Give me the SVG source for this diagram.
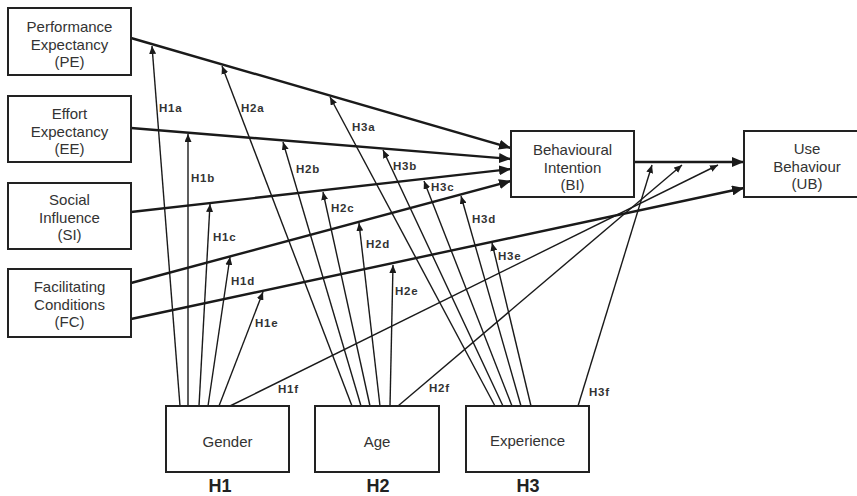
<svg xmlns="http://www.w3.org/2000/svg" width="857" height="496" viewBox="0 0 857 496">
<style>
.box{fill:#fff;stroke:#222;stroke-width:2}
.nt{font-family:"Liberation Sans",Arial,sans-serif;font-size:15px;fill:#333;text-anchor:middle}
.main{stroke:#1a1a1a;stroke-width:2.4;fill:none;marker-end:url(#big)}
.mod{stroke:#1a1a1a;stroke-width:1.4;fill:none;marker-end:url(#small)}
.lbl{font-family:"Liberation Sans",Arial,sans-serif;font-size:11.5px;font-weight:bold;letter-spacing:0.8px;fill:#333}
.hl{font-family:"Liberation Sans",Arial,sans-serif;font-size:18px;font-weight:bold;fill:#222;text-anchor:middle}
</style>
<defs>
<marker id="big" viewBox="0 0 12 10" refX="12" refY="5" markerWidth="12" markerHeight="10" orient="auto" markerUnits="userSpaceOnUse"><path d="M0,0 L12,5 L0,10 z" fill="#1a1a1a"/></marker>
<marker id="small" viewBox="0 0 8 7" refX="8" refY="3.5" markerWidth="8" markerHeight="7" orient="auto" markerUnits="userSpaceOnUse"><path d="M0,0 L8,3.5 L0,7 z" fill="#1a1a1a"/></marker>
</defs>
<rect width="857" height="496" fill="#fff"/>
<g id="connectors">
<line class="main" x1="131" y1="38" x2="511" y2="148"/>
<line class="main" x1="131" y1="128" x2="511" y2="159"/>
<line class="main" x1="131" y1="212" x2="511" y2="169"/>
<line class="main" x1="131" y1="283" x2="511" y2="181"/>
<line class="main" x1="131" y1="319" x2="744" y2="188"/>
<line class="main" x1="634" y1="162" x2="744" y2="162"/>
<line class="mod" x1="180" y1="406" x2="152" y2="46"/>
<line class="mod" x1="188" y1="406" x2="188" y2="134"/>
<line class="mod" x1="199" y1="406" x2="210" y2="204"/>
<line class="mod" x1="208" y1="406" x2="230" y2="257"/>
<line class="mod" x1="219" y1="406" x2="263" y2="292"/>
<line class="mod" x1="230" y1="406" x2="718" y2="165"/>
<line class="mod" x1="352" y1="406" x2="222" y2="66"/>
<line class="mod" x1="361" y1="406" x2="283" y2="142"/>
<line class="mod" x1="370" y1="406" x2="323" y2="192"/>
<line class="mod" x1="380" y1="406" x2="359" y2="223"/>
<line class="mod" x1="390" y1="406" x2="393" y2="265"/>
<line class="mod" x1="398" y1="406" x2="682" y2="165"/>
<line class="mod" x1="495" y1="406" x2="330" y2="97"/>
<line class="mod" x1="503" y1="406" x2="383" y2="150"/>
<line class="mod" x1="512" y1="406" x2="424" y2="181"/>
<line class="mod" x1="521" y1="406" x2="461" y2="196"/>
<line class="mod" x1="531" y1="406" x2="492" y2="243"/>
<line class="mod" x1="578" y1="406" x2="652" y2="165"/>
</g>
<g id="labels">
<text class="lbl" x="159" y="112">H1a</text>
<text class="lbl" x="241" y="112">H2a</text>
<text class="lbl" x="352" y="131">H3a</text>
<text class="lbl" x="191" y="182">H1b</text>
<text class="lbl" x="296" y="173">H2b</text>
<text class="lbl" x="393" y="170">H3b</text>
<text class="lbl" x="213" y="241">H1c</text>
<text class="lbl" x="331" y="212">H2c</text>
<text class="lbl" x="431" y="191">H3c</text>
<text class="lbl" x="231" y="285">H1d</text>
<text class="lbl" x="366" y="248">H2d</text>
<text class="lbl" x="472" y="223">H3d</text>
<text class="lbl" x="255" y="327">H1e</text>
<text class="lbl" x="395" y="295">H2e</text>
<text class="lbl" x="498" y="260">H3e</text>
<text class="lbl" x="278" y="393">H1f</text>
<text class="lbl" x="429" y="392">H2f</text>
<text class="lbl" x="589" y="396">H3f</text>
</g>
<g id="PE"><rect class="box" x="8" y="8" width="123" height="67"/>
<text class="nt" x="69.5" y="32">Performance</text><text class="nt" x="69.5" y="49.5">Expectancy</text><text class="nt" x="69.5" y="67">(PE)</text></g>
<g id="EE"><rect class="box" x="8" y="96" width="123" height="66"/>
<text class="nt" x="69.5" y="119">Effort</text><text class="nt" x="69.5" y="136.5">Expectancy</text><text class="nt" x="69.5" y="154">(EE)</text></g>
<g id="SI"><rect class="box" x="8" y="183" width="123" height="66"/>
<text class="nt" x="69.5" y="205">Social</text><text class="nt" x="69.5" y="222.5">Influence</text><text class="nt" x="69.5" y="240">(SI)</text></g>
<g id="FC"><rect class="box" x="8" y="269" width="123" height="68"/>
<text class="nt" x="69.5" y="292">Facilitating</text><text class="nt" x="69.5" y="309.5">Conditions</text><text class="nt" x="69.5" y="327">(FC)</text></g>
<g id="BI"><rect class="box" x="511" y="131" width="123" height="66"/>
<text class="nt" x="572.5" y="155">Behavioural</text><text class="nt" x="572.5" y="172.5">Intention</text><text class="nt" x="572.5" y="190">(BI)</text></g>
<g id="UB"><rect class="box" x="744" y="131" width="126" height="66"/>
<text class="nt" x="807" y="154">Use</text><text class="nt" x="807" y="171.5">Behaviour</text><text class="nt" x="807" y="189">(UB)</text></g>
<g id="Gender"><rect class="box" x="166" y="406" width="123" height="66"/>
<text class="nt" x="227.5" y="447">Gender</text><text class="hl" x="220" y="492">H1</text></g>
<g id="Age"><rect class="box" x="315" y="406" width="124" height="66"/>
<text class="nt" x="377" y="447">Age</text><text class="hl" x="378" y="492">H2</text></g>
<g id="Experience"><rect class="box" x="466" y="406" width="123" height="66"/>
<text class="nt" x="527.5" y="446">Experience</text><text class="hl" x="528" y="492">H3</text></g>
</svg>
